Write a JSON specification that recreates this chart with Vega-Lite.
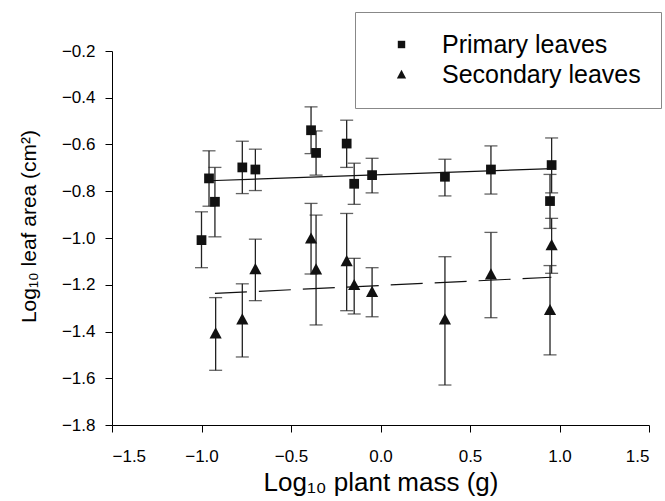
{
  "$schema": "https://vega.github.io/schema/vega-lite/v6.json",
  "autosize": "none",
  "width": 537,
  "height": 374,
  "padding": {"left": 112, "top": 51, "right": 16, "bottom": 76},
  "background": "white",
  "config": {
    "view": {"stroke": null},
    "font": "Liberation Sans",
    "axis": {
      "grid": false,
      "domainColor": "#000",
      "tickColor": "#000",
      "tickSize": 7,
      "labelFont": "Liberation Sans",
      "labelFontSize": 17,
      "labelColor": "#000",
      "titleFont": "Liberation Sans",
      "titleFontWeight": "normal",
      "titleColor": "#000"
    }
  },
  "datasets": {
    "pts": [
      {"group": "Primary leaves", "x": -1.0, "y": -1.009, "lo": -1.127, "hi": -0.888},
      {"group": "Primary leaves", "x": -0.958, "y": -0.745, "lo": -0.864, "hi": -0.627},
      {"group": "Primary leaves", "x": -0.925, "y": -0.845, "lo": -0.995, "hi": -0.698},
      {"group": "Primary leaves", "x": -0.772, "y": -0.698, "lo": -0.81, "hi": -0.586},
      {"group": "Primary leaves", "x": -0.699, "y": -0.707, "lo": -0.797, "hi": -0.62},
      {"group": "Primary leaves", "x": -0.388, "y": -0.539, "lo": -0.639, "hi": -0.439},
      {"group": "Primary leaves", "x": -0.36, "y": -0.636, "lo": -0.731, "hi": -0.542},
      {"group": "Primary leaves", "x": -0.189, "y": -0.596, "lo": -0.698, "hi": -0.496},
      {"group": "Primary leaves", "x": -0.147, "y": -0.768, "lo": -0.856, "hi": -0.68},
      {"group": "Primary leaves", "x": -0.047, "y": -0.731, "lo": -0.807, "hi": -0.659},
      {"group": "Primary leaves", "x": 0.36, "y": -0.738, "lo": -0.82, "hi": -0.663},
      {"group": "Primary leaves", "x": 0.617, "y": -0.707, "lo": -0.812, "hi": -0.606},
      {"group": "Primary leaves", "x": 0.956, "y": -0.688, "lo": -0.807, "hi": -0.572},
      {"group": "Primary leaves", "x": 0.947, "y": -0.842, "lo": -0.959, "hi": -0.728},
      {"group": "Secondary leaves", "x": -0.921, "y": -1.408, "lo": -1.566, "hi": -1.255},
      {"group": "Secondary leaves", "x": -0.772, "y": -1.348, "lo": -1.509, "hi": -1.196},
      {"group": "Secondary leaves", "x": -0.699, "y": -1.133, "lo": -1.268, "hi": -1.005},
      {"group": "Secondary leaves", "x": -0.388, "y": -1.002, "lo": -1.154, "hi": -0.852},
      {"group": "Secondary leaves", "x": -0.36, "y": -1.134, "lo": -1.372, "hi": -0.902},
      {"group": "Secondary leaves", "x": -0.189, "y": -1.099, "lo": -1.311, "hi": -0.895},
      {"group": "Secondary leaves", "x": -0.147, "y": -1.201, "lo": -1.325, "hi": -1.087},
      {"group": "Secondary leaves", "x": -0.047, "y": -1.23, "lo": -1.337, "hi": -1.127},
      {"group": "Secondary leaves", "x": 0.36, "y": -1.348, "lo": -1.629, "hi": -1.08},
      {"group": "Secondary leaves", "x": 0.617, "y": -1.156, "lo": -1.341, "hi": -0.976},
      {"group": "Secondary leaves", "x": 0.947, "y": -1.308, "lo": -1.5, "hi": -1.118},
      {"group": "Secondary leaves", "x": 0.956, "y": -1.03, "lo": -1.151, "hi": -0.916}
    ],
    "fits": [
      {"fit": "primary", "x": -0.96, "y": -0.755},
      {"fit": "primary", "x": 0.96, "y": -0.703},
      {"fit": "secondary", "x": -0.925, "y": -1.237},
      {"fit": "secondary", "x": 0.955, "y": -1.168}
    ]
  },
  "encoding": {
    "x": {
      "field": "x", "type": "quantitative",
      "scale": {"domain": [-1.5, 1.5], "nice": false, "zero": false},
      "axis": {"values": [-1.5, -1.0, -0.5, 0.0, 0.5, 1.0, 1.5], "format": ".1f", "labelPadding": 16, "titlePadding": 5, "titleFontSize": 26, "title": "Log₁₀ plant mass (g)"}
    }
  },
  "layer": [
    {
      "data": {"name": "pts"},
      "mark": {"type": "rule", "color": "#222", "strokeWidth": 1.3},
      "encoding": {
        "y": {"field": "lo", "type": "quantitative",
          "scale": {"domain": [-1.8, -0.2], "nice": false, "zero": false},
          "axis": {"values": [-1.8, -1.6, -1.4, -1.2, -1.0, -0.8, -0.6, -0.4, -0.2], "format": ".1f", "labelPadding": 10, "titlePadding": 22, "titleFontSize": 21, "titleY": 175, "title": "Log₁₀ leaf area (cm²)"}},
        "y2": {"field": "hi"}
      }
    },
    {
      "data": {"name": "pts"},
      "mark": {"type": "tick", "orient": "horizontal", "size": 13, "thickness": 1.3, "color": "#222"},
      "encoding": {"y": {"field": "lo", "type": "quantitative"}}
    },
    {
      "data": {"name": "pts"},
      "mark": {"type": "tick", "orient": "horizontal", "size": 13, "thickness": 1.3, "color": "#222"},
      "encoding": {"y": {"field": "hi", "type": "quantitative"}}
    },
    {
      "data": {"name": "fits"},
      "transform": [{"filter": "datum.fit === 'primary'"}],
      "mark": {"type": "line", "color": "#111", "strokeWidth": 1.2},
      "encoding": {"y": {"field": "y", "type": "quantitative"}}
    },
    {
      "data": {"name": "fits"},
      "transform": [{"filter": "datum.fit === 'secondary'"}],
      "mark": {"type": "line", "color": "#111", "strokeWidth": 1.2, "strokeDash": [32, 12]},
      "encoding": {"y": {"field": "y", "type": "quantitative"}}
    },
    {
      "data": {"name": "pts"},
      "mark": {"type": "point", "filled": true, "opacity": 1, "color": "#111", "size": 95},
      "encoding": {
        "y": {"field": "y", "type": "quantitative"},
        "shape": {"field": "group", "type": "nominal",
          "scale": {"domain": ["Primary leaves", "Secondary leaves"], "range": ["square", "M0,-1.25L1.25,1.05L-1.25,1.05Z"]},
          "legend": {
            "title": null, "orient": "none", "legendX": 243, "legendY": -39,
            "padding": 20, "strokeColor": "#888", "fillColor": "white",
            "labelFont": "Liberation Sans", "labelFontSize": 25, "labelColor": "#000", "labelLimit": 400,
            "symbolSize": 55, "symbolFillColor": "#111", "symbolStrokeColor": "#111", "symbolStrokeWidth": 0,
            "symbolOffset": 14, "labelOffset": 28, "rowPadding": 4
          }}
      }
    }
  ]
}
